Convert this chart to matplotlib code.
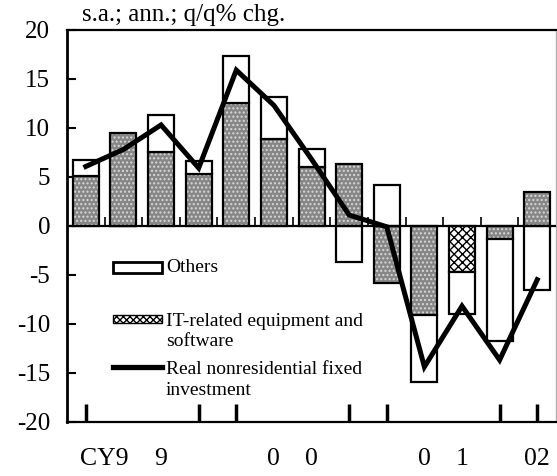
import numpy as np
import matplotlib.pyplot as plt
from matplotlib.patches import Rectangle
from matplotlib.lines import Line2D

plt.rcParams['font.family'] = ['Liberation Serif', 'DejaVu Serif']
plt.rcParams['axes.unicode_minus'] = False

# quarters CY1999Q1 .. CY2002Q1
it_related = [5.1, 9.5, 7.5, 5.3, 12.5, 8.85, 6.0, 6.3, -5.85, -9.1, -4.7, -1.35, 3.45]
others = [1.65, 0.0, 3.8, 1.35, 4.85, 4.35, 1.85, -3.65, 4.2, -6.8, -4.3, -10.45, -6.6]
real_invest = [6.06, 7.8, 10.3, 5.9, 15.9, 12.3, 6.8, 1.1, -0.1, -14.4, -8.2, -13.7, -5.5]

xlabels = ['CY9', '9', '0', '0', '0', '1', '02']
xlabel_pos = [0.5, 2, 5, 6, 9, 10, 12]
year_marks = [0, 3, 4, 7, 8, 11, 12]
checker_bar = 10

x = np.arange(len(it_related))
it = np.array(it_related)
ot = np.array(others)
ot_bottom = np.where(np.sign(it) == np.sign(ot), it, 0)

fig = plt.figure(figsize=(5.57, 4.76), dpi=100)
ax = fig.add_axes([0.1203, 0.1141, 0.878, 0.823])

w = 0.69
hatches = ['xxxx' if i == checker_bar else '....' for i in x]
faces = ['white' if i == checker_bar else '#868686' for i in x]
hcols = ['black' if i == checker_bar else '#d8d8d8' for i in x]
for i in x:
    ax.bar(i, it[i], w, color=faces[i], hatch=hatches[i], edgecolor=hcols[i], linewidth=0, zorder=2)
ax.bar(x, it, w, fill=False, edgecolor='black', linewidth=1.6, zorder=3)
ax.bar(x, ot, w, bottom=ot_bottom, color='white', edgecolor='black', linewidth=1.6, zorder=3)

ax.plot(x, real_invest, color='black', linewidth=3.6, solid_joinstyle='miter', zorder=5)

# zero line with small ticks between quarters
ax.axhline(0, color='black', linewidth=1.6, zorder=4)
ax.vlines(x[:-1] + 0.5, 0, 0.9, color='black', linewidth=1.2, zorder=4)

ax.set_xlim(-0.5, 12.5)
ax.set_ylim(-20, 20)
ax.set_yticks(range(-20, 21, 5))
ax.tick_params(axis='y', direction='in', length=6.5, width=1.5, pad=12, labelsize=18)
ax.xaxis.remove_overlapping_locs = False
ax.set_xticks(xlabel_pos, xlabels)
ax.tick_params(axis='x', which='major', length=0, pad=19, labelsize=18.5)
ax.set_xticks(year_marks, minor=True)
ax.tick_params(axis='x', which='minor', direction='in', length=13, width=2.5)

ax.spines['left'].set_linewidth(2.0)
for s in ['top', 'bottom']:
    ax.spines[s].set_linewidth(1.6)
ax.spines['right'].set_color('#b0b0b0')
ax.spines['right'].set_linewidth(1.0)

ax.text(0.031, 1.038, 's.a.; ann.; q/q% chg.', transform=ax.transAxes,
        ha='left', va='center', fontsize=18)

# legend
lx, lw_ = 0.094, 0.100
tx = 0.2025
ax.add_patch(Rectangle((lx, 0.3789), lw_, 0.0296, transform=ax.transAxes,
                       facecolor='white', edgecolor='black', linewidth=2.0, zorder=6))
ax.add_patch(Rectangle((lx, 0.2512), lw_, 0.0212, transform=ax.transAxes,
                       facecolor='white', edgecolor='black', hatch='xxxxx', linewidth=1.0, zorder=6))
ax.add_line(Line2D([lx, lx + lw_], [0.1404, 0.1404], transform=ax.transAxes,
                   color='black', linewidth=3.8, zorder=6))
ax.text(tx, 0.3924, 'Others', transform=ax.transAxes, ha='left', va='center', fontsize=14)
ax.text(tx, 0.2303, 'IT-related equipment and\nsoftware', transform=ax.transAxes,
        ha='left', va='center', fontsize=14, linespacing=1.25)
ax.text(tx, 0.1065, 'Real nonresidential fixed\ninvestment', transform=ax.transAxes,
        ha='left', va='center', fontsize=14, linespacing=1.25)

fig.savefig('out.png', dpi=100)
